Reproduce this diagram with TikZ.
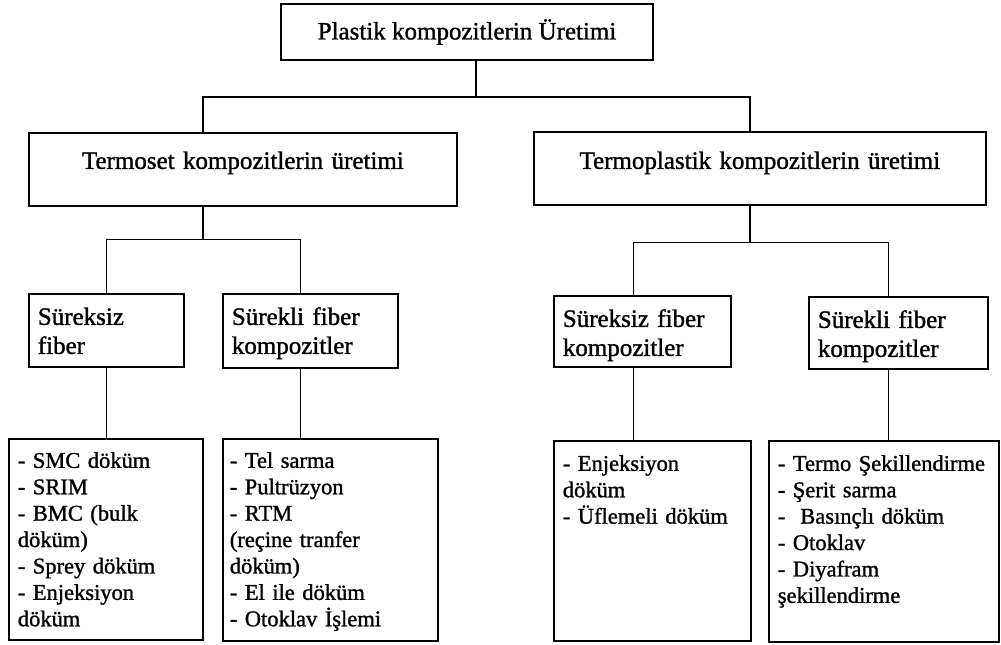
\documentclass[tikz,border=0pt]{standalone}
\usepackage{fontspec}
\setmainfont[FakeBold=1.2]{Liberation Serif}
\usetikzlibrary{positioning}

\tikzset{
  box/.style={draw, line width=1.7pt, inner ysep=0pt, anchor=north west},
  headbox/.style={box, align=center, inner xsep=0pt, font=\fontsize{25}{29}\selectfont},
  kindbox/.style={box, align=left, inner xsep=9pt, font=\fontsize{25}{29}\selectfont,
    text height=31pt},
  listbox/.style={box, align=left, inner xsep=8pt, font=\fontsize{22.5}{26.4}\selectfont},
  link/.style={line width=1.4pt}
}

\begin{document}
\begin{tikzpicture}[x=1pt, y=-1pt]
	\useasboundingbox (0,0) rectangle (1001,645);

	% top
	\node[draw, line width=1.7pt, minimum width=372pt, minimum height=56pt,
	      font=\fontsize{25}{29}\selectfont] (top) at (467,32) {Plastik kompozitlerin Üretimi};

	% matrix type
	\node[headbox, text width=428pt, text height=36pt, text depth=37pt] (termoset) at (28,132) {Termoset kompozitlerin üretimi};
	\node[headbox, text width=452pt, text height=37pt, text depth=36pt] (termoplastik) at (533,131) {Termoplastik kompozitlerin üretimi};

	% fiber type
	\node[kindbox, text width=137pt, text depth=42pt] (ts1) at (28,293) {Süreksiz\\fiber};
	\node[kindbox, text width=157pt, text depth=43pt] (ts2) at (222,293) {Sürekli fiber\\kompozitler};
	\node[kindbox, text width=159pt, text depth=40pt] (tp1) at (553,295) {Süreksiz fiber\\kompozitler};
	\node[kindbox, text width=161pt, text depth=41pt] (tp2) at (808,296) {Sürekli fiber\\kompozitler};

	% methods
	\node[listbox, inner xsep=9pt, text width=176pt, text height=29pt, text depth=172pt] (ts1m) at (8,438)
		{- SMC döküm\\- SRIM\\- BMC (bulk\\döküm)\\- Sprey döküm\\- Enjeksiyon\\döküm};
	\node[listbox, inner xsep=7pt, text width=201pt, text height=29pt, text depth=173pt] (ts2m) at (222,438)
		{- Tel sarma\\- Pultrüzyon\\- RTM\\(reçine tranfer\\döküm)\\- El ile döküm\\- Otoklav İşlemi};
	\node[listbox, inner xsep=9pt, text width=179pt, text height=30pt, text depth=170pt] (tp1m) at (553,440)
		{- Enjeksiyon\\döküm\\- Üflemeli döküm};
	\node[listbox, inner xsep=9pt, text width=212pt, text height=30pt, text depth=171pt] (tp2m) at (768,440)
		{-~Termo~Şekillendirme\\- Şerit sarma\\-\ \ Basınçlı döküm\\- Otoklav\\- Diyafram\\şekillendirme};

	% connectors
	\draw[link] ([xshift=9pt]top.south) -- ++(0,36) coordinate (bus0);
	\draw[link] ([xshift=-40pt]termoset.north) |- (bus0) -| ([xshift=-10pt]termoplastik.north);

	\draw[link] ([xshift=-40pt]termoset.south) -- ++(0,33) coordinate (bus1);
	\draw[link] (ts1.north) |- (bus1) -| ([xshift=-10pt]ts2.north);
	\draw[link] ([xshift=-10pt]termoplastik.south) -- ++(0,37) coordinate (bus2);
	\draw[link] ([xshift=-9pt]tp1.north) |- (bus2) -| ([xshift=-10pt]tp2.north);

	\draw[link] (ts1.south) -- (ts1.south |- ts1m.north);
	\draw[link] ([xshift=-10pt]ts2.south) -- ([xshift=-10pt]ts2.south |- ts2m.north);
	\draw[link] ([xshift=-9pt]tp1.south) -- ([xshift=-9pt]tp1.south |- tp1m.north);
	\draw[link] ([xshift=-10pt]tp2.south) -- ([xshift=-10pt]tp2.south |- tp2m.north);
\end{tikzpicture}
\end{document}
